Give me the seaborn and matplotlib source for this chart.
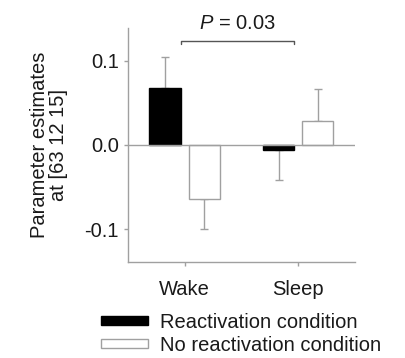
import pandas as pd
import seaborn as sns
import matplotlib.pyplot as plt
from matplotlib.patches import Patch

# Data
groups = ['Wake', 'Wake', 'Sleep', 'Sleep']
conditions = ['Reactivation condition', 'No reactivation condition',
              'Reactivation condition', 'No reactivation condition']
estimates = [0.068, -0.064, -0.006, 0.029]
sems = [0.037, 0.036, 0.036, 0.038]
p_text = '$\\it{P}$ = 0.03'

df = pd.DataFrame({'group': groups, 'condition': conditions,
                   'estimate': estimates, 'sem': sems})

sns.set_style('white')
plt.rcParams['font.family'] = ['Liberation Sans', 'DejaVu Sans']
plt.rcParams['mathtext.fontset'] = 'custom'
plt.rcParams['mathtext.it'] = 'Liberation Sans:italic'
fs = 14.5

grey = '#a0a0a0'
txt = '#1a1a1a'
fig = plt.figure(figsize=(4.06, 3.58), dpi=100)
ax = fig.add_axes([0.315, 0.268, 0.559, 0.654])

hue_order = ['Reactivation condition', 'No reactivation condition']
sns.barplot(data=df, x='group', y='estimate', hue='condition',
            hue_order=hue_order, order=['Wake', 'Sleep'],
            palette=['black', 'white'], width=0.69, gap=0.2,
            errorbar=None, legend=False, ax=ax, zorder=2)

# outline colours and one-sided error bars
for cont, cond in zip(ax.containers, hue_order):
    sub = df[df['condition'] == cond].set_index('group').loc[['Wake', 'Sleep']]
    for bar, (_, row) in zip(cont, sub.iterrows()):
        bar.set_edgecolor('black' if cond == hue_order[0] else grey)
        bar.set_linewidth(1)
        xc = bar.get_x() + bar.get_width() / 2
        v, e = row['estimate'], row['sem']
        yerr = [[0], [e]] if v >= 0 else [[e], [0]]
        ax.errorbar(xc, v, yerr=yerr, fmt='none', ecolor=grey,
                    elinewidth=1, capsize=3, capthick=1, zorder=1)

ax.axhline(0, color=grey, lw=1, zorder=3)
ax.set_ylim(-0.139, 0.139)
ax.set_xlim(-0.5, 1.5)
ax.set_yticks([-0.1, 0.0, 0.1])
ax.set_yticklabels(['-0.1', '0.0', '0.1'])
ax.set_xlabel('')
ax.set_ylabel('Parameter estimates\nat [63 12 15]', fontsize=fs, labelpad=12,
              linespacing=1.0, color=txt)
for s in ['top', 'right']:
    ax.spines[s].set_visible(False)
for s in ['left', 'bottom']:
    ax.spines[s].set_color(grey)
    ax.spines[s].set_linewidth(1)
ax.tick_params(axis='both', which='both', length=3, width=1, color=grey,
               labelsize=fs, labelcolor=txt, left=True, bottom=True)
ax.tick_params(axis='x', pad=10)

# significance bracket between the reactivation bars
b1 = ax.containers[0][0]
b2 = ax.containers[0][1]
x1 = b1.get_x() + b1.get_width()
x2 = b2.get_x() + b2.get_width()
yb = 0.124
ax.plot([x1, x1, x2, x2], [yb - 0.004, yb, yb, yb - 0.004], color='#555555',
        lw=1, clip_on=False)
ax.text((x1 + x2) / 2, 0.133, p_text, ha='center', va='bottom', fontsize=fs,
        color=txt, clip_on=False)

handles = [Patch(facecolor='black', edgecolor='black'),
           Patch(facecolor='white', edgecolor=grey)]
fig.legend(handles, hue_order, loc='upper left', bbox_to_anchor=(0.225, 0.155),
           frameon=False, handlelength=2.3, handleheight=0.3,
           handletextpad=0.6, labelspacing=0.22, borderpad=0, fontsize=fs,
           labelcolor=txt)

fig.savefig('out.png', dpi=100)
